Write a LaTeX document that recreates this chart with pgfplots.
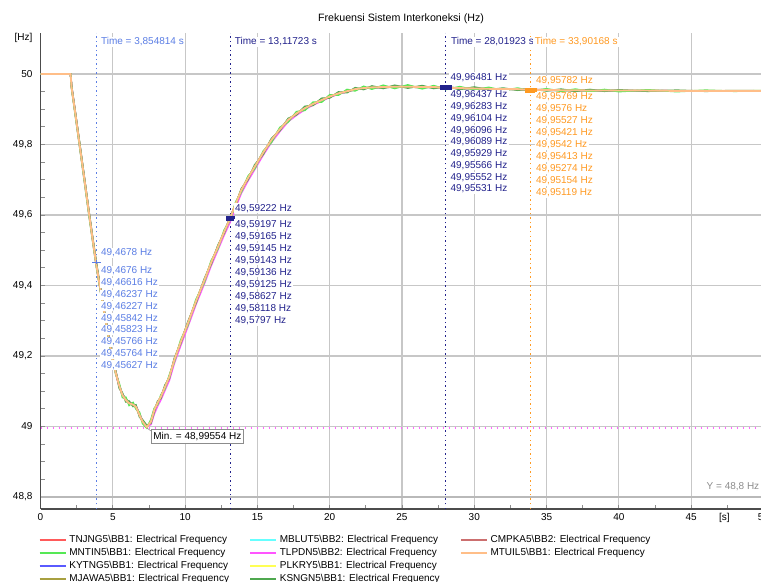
\documentclass[border=0pt]{standalone}
\usepackage{pgfplots}
\pgfplotsset{compat=1.18}
\usepackage{pgfplotstable}
\usepackage{fontspec}
\setmainfont{Liberation Sans}

\definecolor{cTN}{HTML}{FF5A5A}
\definecolor{cMN}{HTML}{55E855}
\definecolor{cKY}{HTML}{5A5AFF}
\definecolor{cMJ}{HTML}{A8A040}
\definecolor{cMB}{HTML}{66FFFF}
\definecolor{cTL}{HTML}{FF55FF}
\definecolor{cPL}{HTML}{FFFF55}
\definecolor{cKS}{HTML}{4FA84F}
\definecolor{cCM}{HTML}{CC6F6F}
\definecolor{cMT}{HTML}{FFBE88}
\definecolor{cLB}{HTML}{5B7EE5}
\definecolor{cNV}{HTML}{22228C}
\definecolor{cOR}{HTML}{FF9A22}
\definecolor{cMin}{HTML}{FF66FF}

\pgfplotstableread{
t      A       B       C       D       E
0      50      50      50      50      50
2.08   50      50      50      50      50
2.15   49.962  49.965  49.960  49.966  49.964
2.4    49.890  49.893  49.885  49.892  49.888
2.66   49.813  49.815  49.808  49.818  49.810
3.0    49.712  49.714  49.706  49.716  49.708
3.35   49.606  49.609  49.600  49.610  49.603
3.6    49.533  49.536  49.528  49.537  49.530
3.85   49.462  49.466  49.457  49.468  49.459
4.0    49.424  49.428  49.420  49.429  49.421
4.3    49.350  49.354  49.346  49.355  49.347
4.7    49.255  49.258  49.250  49.260  49.252
5.0    49.190  49.193  49.186  49.195  49.188
5.21   49.151  49.154  49.147  49.156  49.150
5.45   49.115  49.117  49.122  49.108  49.112
5.67   49.089  49.091  49.082  49.095  49.090
5.9    49.075  49.078  49.083  49.070  49.076
6.13   49.066  49.068  49.060  49.072  49.068
6.4    49.062  49.064  49.068  49.057  49.064
6.60   49.056  49.058  49.050  49.061  49.058
6.85   49.032  49.035  49.040  49.027  49.035
7.06   49.014  49.016  49.008  49.019  49.016
7.35   48.998  49.000  48.996  49.003  49.000
7.64   49.014  49.012  49.020  49.010  49.006
7.87   49.047  49.045  49.052  49.042  49.036
8.1    49.068  49.066  49.062  49.072  49.058
8.33   49.085  49.083  49.090  49.080  49.076
8.6    49.112  49.110  49.106  49.117  49.102
8.91   49.141  49.139  49.146  49.136  49.131
9.26   49.190  49.188  49.184  49.194  49.180
9.7    49.240  49.238  49.246  49.236  49.230
10.19  49.293  49.291  49.287  49.297  49.283
10.75  49.355  49.353  49.360  49.350  49.346
11.34  49.416  49.414  49.410  49.420  49.406
11.8   49.465  49.463  49.470  49.460  49.456
12.27  49.510  49.508  49.504  49.514  49.501
12.7   49.552  49.550  49.557  49.548  49.543
13.117 49.591  49.592  49.586  49.592  49.580
13.5   49.632  49.630  49.637  49.628  49.622
13.89  49.671  49.669  49.665  49.675  49.662
14.35  49.705  49.703  49.710  49.700  49.697
14.81  49.737  49.735  49.731  49.742  49.729
15.4   49.777  49.775  49.781  49.772  49.770
15.97  49.813  49.811  49.806  49.817  49.806
16.55  49.843  49.841  49.848  49.839  49.837
17.13  49.870  49.868  49.864  49.874  49.865
17.7   49.888  49.887  49.893  49.884  49.883
18.28  49.903  49.902  49.897  49.908  49.899
18.85  49.915  49.914  49.920  49.911  49.912
19.44  49.926  49.925  49.920  49.931  49.923
20.0   49.936  49.935  49.941  49.932  49.934
20.6   49.945  49.944  49.940  49.949  49.943
21.2   49.951  49.950  49.956  49.947  49.950
21.76  49.957  49.956  49.952  49.961  49.956
22.35  49.960  49.959  49.965  49.956  49.959
22.92  49.962  49.961  49.957  49.966  49.962
23.7   49.963  49.962  49.968  49.959  49.963
24.5   49.964  49.963  49.959  49.968  49.964
25.4   49.964  49.963  49.969  49.960  49.964
26.4   49.963  49.962  49.958  49.967  49.963
27.2   49.963  49.962  49.967  49.959  49.963
28.02  49.961  49.962  49.956  49.965  49.960
29     49.960  49.960  49.964  49.956  49.960
30     49.959  49.959  49.955  49.963  49.959
31     49.958  49.958  49.962  49.955  49.958
32     49.957  49.957  49.953  49.960  49.957
33     49.957  49.956  49.960  49.954  49.957
33.9   49.955  49.955  49.952  49.958  49.956
35     49.955  49.954  49.958  49.952  49.955
36     49.954  49.954  49.951  49.957  49.955
37     49.954  49.953  49.957  49.951  49.954
38     49.953  49.953  49.950  49.956  49.954
39     49.953  49.953  49.956  49.951  49.953
40     49.953  49.952  49.950  49.955  49.953
42     49.953  49.952  49.955  49.951  49.953
44     49.952  49.952  49.950  49.954  49.952
46     49.952  49.952  49.954  49.951  49.952
48     49.952  49.952  49.951  49.953  49.952
50     49.952  49.952  49.953  49.952  49.952
}\freq

\begin{document}
\begin{tikzpicture}
\begin{axis}[
  at={(30.375pt,54.75pt)}, anchor=south west,
  scale only axis, width=542.25pt, height=357pt,
  xmin=0, xmax=50, ymin=48.766, ymax=50.1163,
  axis lines*=left,
  axis line style={draw=black!70, line width=1.3pt},
  xtick={0,5,10,15,20,25,30,35,40,45,50},
  ytick={48.8,49,49.2,49.4,49.6,49.8,50},
  minor x tick num=1, minor y tick num=3,
  grid=major, major grid style={black!22, line width=0.8pt},
  tick style={black!45, line width=0.6pt}, tick align=inside,
  major tick length=3pt, minor tick length=3pt,
  ticklabel style={font=\fontsize{7.5}{9}\selectfont},
  yticklabel style={xshift=-2.5pt},
  /pgf/number format/assume math mode=true,
  /pgf/number format/use comma,
  extra x ticks={47.3}, extra x tick labels={{[s]}},
  extra x tick style={grid=none, major tick length=0pt},
  extra y ticks={50.101}, extra y tick labels={{[Hz]}},
  extra y tick style={grid=none, major tick length=0pt},
  legend columns=3, legend cell align=left,
  legend style={at={(-0.003,-0.055)}, anchor=north west, draw=none, fill=none,
    inner sep=0pt, font=\fontsize{7.5}{9}\selectfont,
    nodes={inner ysep=0pt, inner xsep=2pt, text height=5.5pt, text depth=1.5pt},
    row sep=2.8pt,
    /tikz/every even column/.append style={column sep=13pt}},
  legend image code/.code={\draw[#1,line width=1.6pt] (0pt,0pt) -- (19.5pt,0pt);},
]
% cursor and reference lines
\addplot[forget plot, gray!55, line width=1.3pt] coordinates {(0,48.8)(50,48.8)};
\addplot[forget plot, cMin, line width=1pt, dash pattern=on 1.2pt off 3.3pt] coordinates {(0,48.99554)(50,48.99554)};
\addplot[forget plot, cLB, line width=1pt, dash pattern=on 1.1pt off 2.3pt] coordinates {(3.854814,48.766)(3.854814,50.1163)};
\addplot[forget plot, cNV, line width=1pt, dash pattern=on 1.1pt off 2.3pt] coordinates {(13.11723,48.766)(13.11723,50.1163)};
\addplot[forget plot, cNV, line width=1pt, dash pattern=on 1.1pt off 2.3pt] coordinates {(28.01923,48.766)(28.01923,50.1163)};
\addplot[forget plot, cOR, line width=1pt, dash pattern=on 1.1pt off 2.3pt] coordinates {(33.90168,48.766)(33.90168,50.1163)};
% series
\addplot[forget plot, cTN, line width=1.2pt] table[x=t,y=A] {\freq};
\addplot[forget plot, cMB, line width=1.2pt] table[x=t,y=A] {\freq};
\addplot[forget plot, cPL, line width=1.2pt] table[x=t,y=A] {\freq};
\addplot[forget plot, cCM, line width=1.2pt] table[x=t,y=A] {\freq};
\addplot[forget plot, cKY, line width=1.2pt] table[x=t,y=B] {\freq};
\addplot[forget plot, cMJ, line width=1.2pt] table[x=t,y=B] {\freq};
\addplot[forget plot, cTL, line width=1.2pt] table[x=t,y=E] {\freq};
\addplot[forget plot, cKS, line width=1.2pt] table[x=t,y=D] {\freq};
\addplot[forget plot, cMN, line width=1.2pt] table[x=t,y=C] {\freq};
\addplot[forget plot, cMT, line width=1.4pt] table[x=t,y=A] {\freq};
% cursor markers
\addplot[forget plot, cLB, only marks, mark=-, mark size=3.4pt, mark options={line width=1.1pt}] coordinates {(3.854814,49.4658)};
\addplot[forget plot, cLB, only marks, mark=|, mark size=1.6pt, mark options={line width=0.8pt}] coordinates {(3.854814,49.4658)};
\addplot[forget plot, cNV, only marks, mark=square*, mark size=1.4pt, mark options={xscale=2.1}] coordinates {(13.11723,49.5915)};
\addplot[forget plot, cNV, only marks, mark=square*, mark size=1.5pt, mark options={xscale=2.75}] coordinates {(28.01923,49.961)};
\addplot[forget plot, cOR, only marks, mark=square*, mark size=1.5pt, mark options={xscale=2.75}] coordinates {(33.90168,49.9546)};
% legend
\addlegendimage{cTN}\addlegendentry{TNJNG5\textbackslash BB1: Electrical Frequency}
\addlegendimage{cMB}\addlegendentry{MBLUT5\textbackslash BB2: Electrical Frequency}
\addlegendimage{cCM}\addlegendentry{CMPKA5\textbackslash BB2: Electrical Frequency}
\addlegendimage{cMN}\addlegendentry{MNTIN5\textbackslash BB1: Electrical Frequency}
\addlegendimage{cTL}\addlegendentry{TLPDN5\textbackslash BB2: Electrical Frequency}
\addlegendimage{cMT}\addlegendentry{MTUIL5\textbackslash BB1: Electrical Frequency}
\addlegendimage{cKY}\addlegendentry{KYTNG5\textbackslash BB1: Electrical Frequency}
\addlegendimage{cPL}\addlegendentry{PLKRY5\textbackslash BB1: Electrical Frequency}
\addlegendimage{empty legend}\addlegendentry{}
\addlegendimage{cMJ}\addlegendentry{MJAWA5\textbackslash BB1: Electrical Frequency}
\addlegendimage{cKS}\addlegendentry{KSNGN5\textbackslash BB1: Electrical Frequency}
\end{axis}

\begin{scope}[x=0.75pt,y=-0.75pt,shift={(0pt,436.5pt)},
  lab/.style={anchor=west, fill=white, inner xsep=1pt, inner ysep=0.6pt, font=\fontsize{7.5}{9}\selectfont}]
\node[font=\fontsize{8}{10}\selectfont] at (401,18.3) {Frekuensi Sistem Interkoneksi (Hz)};
% cursor 1
\node[lab, text=cLB] at (99.5,42) {Time = 3,854814 s};
\node[lab, text=cLB] at (99.5,253) {49,4678 Hz};
\foreach \v [count=\i from 0] in {{49,4676},{49,46616},{49,46237},{49,46227},{49,45842},{49,45823},{49,45766},{49,45764},{49,45627}}
  \node[lab, text=cLB] at (99.5,{271+\i*11.8}) {\v\ Hz};
% cursor 2
\node[lab, text=cNV] at (233.3,42) {Time = 13,11723 s};
\node[lab, text=cNV] at (233.5,208.3) {49,59222 Hz};
\foreach \v [count=\i from 0] in {{49,59197},{49,59165},{49,59145},{49,59143},{49,59136},{49,59125},{49,58627},{49,58118},{49,5797}}
  \node[lab, text=cNV] at (233.5,{224.3+\i*12.05}) {\v\ Hz};
% cursor 3
\node[lab, text=cNV] at (449.5,42) {Time = 28,01923 s};
\node[lab, text=cNV] at (449,77.3) {49,96481 Hz};
\foreach \v [count=\i from 0] in {{49,96437},{49,96283},{49,96104},{49,96096},{49,96089},{49,95929},{49,95566},{49,95552},{49,95531}}
  \node[lab, text=cNV] at (449,{95+\i*11.75}) {\v\ Hz};
% cursor 4
\node[lab, text=cOR] at (533.2,42) {Time = 33,90168 s};
\node[lab, text=cOR] at (534.5,81) {49,95782 Hz};
\foreach \v [count=\i from 0] in {{49,95769},{49,9576},{49,95527},{49,95421},{49,9542},{49,95413},{49,95274},{49,95154},{49,95119}}
  \node[lab, text=cOR] at (534.5,{96.7+\i*12}) {\v\ Hz};
% min label
\draw[black!45] (147,428) -- (151,431);
\node[anchor=north west, draw=black!45, fill=white, inner xsep=1.6pt, inner ysep=2pt,
  font=\fontsize{7.5}{9}\selectfont] at (151,429) {Min. = 48,99554 Hz};
\node[anchor=east, text=black!45, inner sep=0pt, font=\fontsize{7.5}{9}\selectfont] at (759.5,486.7) {Y = 48,8 Hz};
\end{scope}
\pgfresetboundingbox
\path[use as bounding box] (0,0) rectangle (570.75pt,436.5pt);
\end{tikzpicture}
\end{document}
